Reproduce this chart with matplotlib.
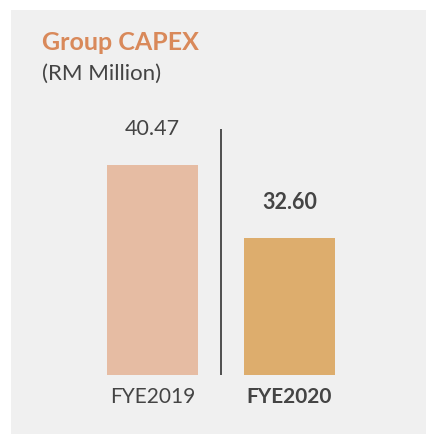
import matplotlib.pyplot as plt
from matplotlib.patches import Rectangle

# data
years = ["FYE2019", "FYE2020"]
capex = [40.47, 32.60]
value_labels = ["40.47", "32.60"]

bar_colors = ["#E6BCA3", "#DDAD6D"]
panel_color = "#F0F0F0"
text_color = "#444444"

plt.rcParams['font.family'] = ['Lato', 'DejaVu Sans']

W, H = 426, 435
fig = plt.figure(figsize=(W / 100, H / 100), dpi=100, facecolor="white")

# grey panel behind everything
fig.patches.append(Rectangle((11 / W, 0), 415 / W, 424 / H,
                             transform=fig.transFigure, facecolor=panel_color,
                             edgecolor="none", zorder=-5))

ax = fig.add_axes([11 / W, 59 / H, 415 / W, 246 / H])
ax.set_zorder(2)
ax.set_facecolor("none")
x = range(len(years))
ax.bar(x, capex, width=0.66, color=bar_colors, bottom=0)
ax.set_xlim(-1.033, 1.996)
ax.set_ylim(17.83, 44.34)
ax.axvline(0.5, color="#222222", lw=1.1)

for i, v in enumerate(capex):
    ax.annotate(value_labels[i], (i, v), xytext=(0, 26.5), textcoords="offset points",
                ha="center", va="center", fontsize=15.5, color=text_color,
                fontweight="bold" if i == 1 else "normal")

ax.set_xticks(list(x))
ax.set_xticklabels(years, fontsize=15, color=text_color)
ax.get_xticklabels()[1].set_fontweight("bold")
ax.tick_params(axis="x", length=0, pad=8)
ax.set_yticks([])
for s in ax.spines.values():
    s.set_visible(False)

fig.text(42 / W, 1 - 42 / H, "Group CAPEX", fontsize=18, fontweight="bold",
         color="#D9895A", va="center", ha="left")
fig.text(42 / W, 1 - 74 / H, "(RM Million)", fontsize=16, color=text_color,
         va="center", ha="left")

fig.savefig("out.png", dpi=100, facecolor="white")
